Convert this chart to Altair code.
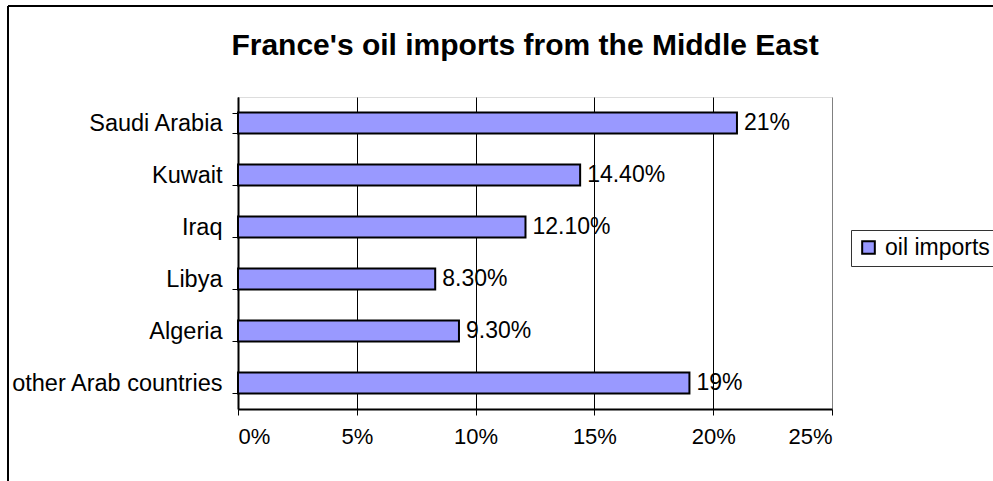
import altair as alt
import pandas as pd

countries = ["Saudi Arabia", "Kuwait", "Iraq", "Libya", "Algeria", "other Arab countries"]
values = [21, 14.4, 12.1, 8.3, 9.3, 19]
labels = ["21%", "14.40%", "12.10%", "8.30%", "9.30%", "19%"]
series = "oil imports"
x_ticks = [0, 5, 10, 15, 20, 25]
title_text = "France's oil imports from the Middle East"

df = pd.DataFrame({"country": countries, "value": values, "label": labels, "series": series})

FONT = "Liberation Sans"

base = alt.Chart(df)

y_enc = alt.Y(
    "country:N",
    sort=countries,
    scale=alt.Scale(paddingInner=0.6, paddingOuter=0.3),
    axis=alt.Axis(
        title=None,
        labelFontSize=23.5,
        labelFont=FONT,
        labelColor="black",
        labelPadding=10,
        labelLimit=400,
        tickBand="extent",
        tickSize=6,
        tickColor="black",
        tickWidth=1,
        domainColor="black",
        domainWidth=2,
        grid=False,
    ),
)

x_enc = alt.X(
    "value:Q",
    scale=alt.Scale(domain=[0, 25], nice=False, zero=True),
    axis=alt.Axis(
        title=None,
        values=x_ticks,
        labelExpr="datum.value + '%'",
        labelFontSize=22,
        labelFont=FONT,
        labelColor="black",
        labelPadding=11,
        tickSize=6,
        tickColor="black",
        domainColor="black",
        domainWidth=2,
        grid=True,
        gridColor={"condition": {"test": "datum.value >= 25", "value": "#808080"}, "value": "black"},
        gridWidth=1,
        gridOpacity=1,
    ),
)

bars = base.mark_bar(stroke="black", strokeWidth=2).encode(
    x=x_enc,
    y=y_enc,
    color=alt.Color(
        "series:N",
        scale=alt.Scale(domain=[series], range=["#9999ff"]),
        legend=alt.Legend(
            title=None,
            orient="none",
            legendX=613,
            legendY=133,
            strokeColor="#333333",
            fillColor="white",
            padding=6,
            symbolType="square",
            symbolSize=160,
            symbolStrokeColor="black",
            symbolStrokeWidth=2,
            symbolFillColor="#9999ff",
            labelFontSize=23,
            labelFont=FONT,
            labelColor="black",
            labelOffset=5,
        ),
    ),
)

text = base.mark_text(align="left", baseline="middle", dx=7, fontSize=23, font=FONT, color="black").encode(
    x="value:Q",
    y=alt.Y("country:N", sort=countries),
    text="label:N",
)

frame_data = alt.Data(values=[{}])
left_rule = alt.Chart(frame_data).mark_rule(color="black", strokeWidth=2).encode(
    x=alt.value(-230), y=alt.value(-91), y2=alt.value(400)
)
top_rule = alt.Chart(frame_data).mark_rule(color="black", strokeWidth=2).encode(
    x=alt.value(-230), x2=alt.value(800), y=alt.value(-91)
)
title_mark = alt.Chart(frame_data).mark_text(
    align="center", baseline="alphabetic", fontSize=30, fontWeight="bold", font=FONT, color="black"
).encode(x=alt.value(287), y=alt.value(-42), text=alt.value(title_text))

chart = alt.layer(bars, text, left_rule, top_rule, title_mark).properties(
    width=594,
    height=312,
    autosize=alt.AutoSizeParams(type="none"),
    padding={"left": 238, "top": 97, "right": 161, "bottom": 72},
).configure_view(stroke="#808080", strokeWidth=2).configure(background="white")

chart.save("out.html", embed_options={"renderer": "svg", "actions": False})
